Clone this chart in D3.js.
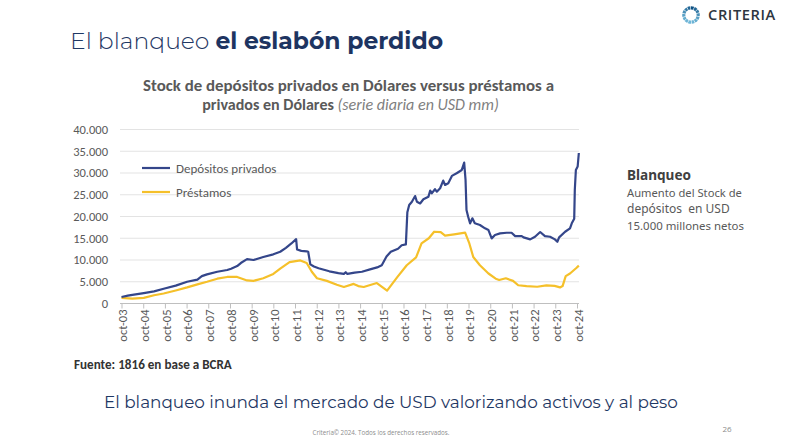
<!DOCTYPE html>
<html><head><meta charset="utf-8">
<script src="https://cdn.jsdelivr.net/npm/d3@7"></script>
<style>
html,body{margin:0;padding:0;background:#fff;}
svg{display:block;}
</style>
</head><body>
<svg id="c" width="790" height="444"></svg>
<script>
// ---------- DATA ----------
const seriesNames = ["Depósitos privados", "Préstamos"];
const depDates = ["2003-10-01","2004-01-15","2004-04-01","2004-10-10","2005-04-01","2005-09-10","2006-04-01","2006-10-10","2007-04-01","2007-06-15","2007-09-10","2008-03-01","2008-08-15","2008-10-20","2009-01-30","2009-04-01","2009-07-15","2009-11-01","2010-04-15","2010-10-01","2011-01-25","2011-05-01","2011-08-01","2011-10-20","2011-11-05","2012-01-15","2012-04-15","2012-05-10","2012-06-15","2012-08-15","2012-11-01","2013-05-01","2013-10-01","2014-01-01","2014-02-01","2014-03-01","2014-07-01","2014-11-01","2015-04-01","2015-07-15","2015-10-01","2015-12-20","2016-03-01","2016-07-01","2016-09-01","2016-11-10","2016-12-05","2017-01-05","2017-02-20","2017-04-15","2017-05-15","2017-07-08","2017-09-01","2017-11-25","2017-12-25","2018-01-20","2018-03-15","2018-04-15","2018-06-10","2018-08-01","2018-09-01","2018-10-25","2018-12-25","2019-03-15","2019-06-10","2019-07-20","2019-08-12","2019-08-28","2019-09-25","2019-10-28","2019-12-05","2020-01-15","2020-04-10","2020-07-05","2020-09-01","2020-10-25","2020-12-20","2021-03-15","2021-07-05","2021-09-25","2021-11-25","2022-03-15","2022-04-15","2022-08-05","2022-10-25","2023-01-20","2023-04-10","2023-07-05","2023-09-25","2023-11-05","2023-12-05","2024-03-15","2024-06-05","2024-07-05","2024-08-15","2024-08-25","2024-09-12","2024-10-12","2024-11-01"];
const depValues = [1500,1800,2000,2400,2800,3400,4100,5000,5500,6300,6700,7300,7700,8000,8600,9300,10200,10000,10700,11300,11900,12800,13800,14800,12400,12100,12000,11900,9000,8500,8100,7400,7000,6800,7200,6800,7100,7300,7900,8300,8800,10800,11900,12600,13400,13600,21000,22650,23400,24700,23400,23000,23960,24560,25940,25330,26270,25710,26500,28250,27250,27650,29330,29950,30700,32400,28400,21500,19950,18430,19580,18430,18040,17280,16890,14970,15740,16120,16270,16270,15500,15500,15200,14740,15350,16430,15500,15350,14740,14200,15200,16500,17280,18430,19500,26100,30700,31500,34600];
const presDates = ["2003-10-01","2004-04-01","2004-10-10","2005-04-01","2005-09-10","2006-04-01","2006-10-10","2007-04-01","2007-09-10","2008-03-01","2008-08-15","2009-01-30","2009-07-15","2009-11-01","2010-04-15","2010-10-01","2011-01-25","2011-07-01","2011-12-30","2012-04-15","2012-07-10","2012-10-05","2013-03-20","2013-09-05","2014-01-01","2014-06-15","2014-09-01","2014-12-01","2015-07-10","2015-12-30","2016-06-15","2016-11-25","2017-05-01","2017-08-01","2017-12-01","2018-03-01","2018-06-20","2018-09-01","2019-02-01","2019-08-05","2019-10-15","2019-12-20","2020-04-10","2020-09-01","2021-01-01","2021-03-01","2021-06-20","2021-10-20","2022-01-15","2022-06-05","2022-12-01","2023-05-05","2023-09-20","2023-12-20","2024-02-01","2024-03-25","2024-06-05","2024-09-15","2024-11-01"];
const presValues = [1300,1100,1300,1900,2300,3000,3700,4400,5000,5700,6100,6100,5300,5200,5800,6800,8000,9500,9900,9300,7300,5800,5200,4300,3800,4500,4000,3800,4700,2950,6000,8800,10600,13800,15000,16500,16400,15600,15900,16300,13800,10700,8800,6900,5700,5400,5800,5200,4200,4000,3850,4150,4050,3700,4000,6300,6900,8100,8700];
const yTicks = [0,5000,10000,15000,20000,25000,30000,35000,40000];
const xTickYears = [2003,2004,2005,2006,2007,2008,2009,2010,2011,2012,2013,2014,2015,2016,2017,2018,2019,2020,2021,2022,2023,2024];
const monthLabel = "oct";

// ---------- SETUP ----------
const svg = d3.select("#c");
const parse = d3.timeParse("%Y-%m-%d");
const dep = depDates.map((d,i)=>({date:parse(d), v:depValues[i]}));
const pres = presDates.map((d,i)=>({date:parse(d), v:presValues[i]}));

const x = d3.scaleTime().domain([new Date(2003,9,1), new Date(2024,9,1)]).range([121.5, 577]);
const y = d3.scaleLinear().domain([0,40000]).range([303.5,129.5]);

function fit(sel, target){
  const n = sel.node();
  const fs = parseFloat(sel.attr("font-size"));
  const w = n.getComputedTextLength();
  sel.attr("font-size", (fs*target/w).toFixed(2));
}

const navy = "#1f3864";
const chartFont = "Carlito, 'Open Sans', 'Noto Sans', sans-serif";
const titleFont = "Montserrat, 'Noto Sans', 'Open Sans', sans-serif";

// ---------- PAGE TITLE ----------
const t = svg.append("text").attr("x",70).attr("y",49).attr("font-family",titleFont)
  .attr("font-size",25).attr("fill",navy);
t.append("tspan").attr("font-weight",300).text("El blanqueo ");
t.append("tspan").attr("font-weight",700).attr("fill","#1d3461").text("el eslabón perdido");
fit(t, 373);

// ---------- LOGO ----------
const logo = svg.append("g").attr("transform","translate(691,15)");
const segs = 14;
for(let i=0;i<segs;i++){
  const a0 = i*2*Math.PI/segs, a1 = a0 + 2*Math.PI/segs*0.82;
  logo.append("path")
    .attr("d", d3.arc()({innerRadius:5.6, outerRadius:8.8, startAngle:a0, endAngle:a1}))
    .attr("fill", d3.interpolateRgb("#0c4f82","#6fb7d8")(Math.abs(Math.sin(i/segs*Math.PI))));
}
const lt = svg.append("text").attr("x",708).attr("y",19.5).attr("font-family","'Open Sans', sans-serif")
  .attr("font-weight",600).attr("font-size",12).attr("fill","#2d3640").attr("letter-spacing",0.6).text("CRITERIA");
fit(lt, 69);

// ---------- CHART TITLE ----------
const ct1 = svg.append("text").attr("x",348.5).attr("y",91).attr("text-anchor","middle")
  .attr("font-family",chartFont).attr("font-weight",700).attr("font-size",15).attr("fill","#595959")
  .text("Stock de depósitos privados en Dólares versus préstamos a");
fit(ct1, 411);
const ct2 = svg.append("text").attr("x",350.5).attr("y",110).attr("text-anchor","middle")
  .attr("font-family",chartFont).attr("font-size",15).attr("fill","#595959");
ct2.append("tspan").attr("font-weight",700).text("privados en Dólares ");
ct2.append("tspan").attr("font-style","italic").attr("font-weight",400).attr("fill","#7f7f7f").text("(serie diaria en USD mm)");
fit(ct2, 297);

// ---------- GRID + Y AXIS ----------
const fmt = v => d3.format(",")(v).replace(/,/g,".");
svg.append("g").selectAll("line").data(yTicks.filter(d=>d>0)).join("line")
  .attr("x1",120).attr("x2",579).attr("y1",d=>y(d)).attr("y2",d=>y(d))
  .attr("stroke","#e3e3e3").attr("stroke-width",1);
svg.append("g").selectAll("text").data(yTicks).join("text")
  .attr("x",108).attr("y",d=>y(d)+4.3).attr("text-anchor","end")
  .attr("font-family",chartFont).attr("font-size",12.5).attr("fill","#595959").text(fmt);

// ---------- X AXIS ----------
const xAxis = d3.axisBottom(x)
  .tickValues(xTickYears.map(yr=>new Date(yr,9,1)))
  .tickFormat(d=>monthLabel+"-"+d3.timeFormat("%y")(d))
  .tickSize(5).tickSizeOuter(0);
const gx = svg.append("g").attr("transform","translate(0,303.5)").call(xAxis);
gx.select(".domain").attr("stroke","#bfbfbf").attr("d","M120,0H579");
gx.selectAll(".tick line").attr("stroke","#bfbfbf");
gx.selectAll(".tick text")
  .attr("font-family",chartFont).attr("font-size",12.5).attr("fill","#595959")
  .attr("transform","translate(1,0) rotate(-90)").attr("text-anchor","end")
  .attr("x",-6).attr("y",0).attr("dy","0.35em");

// ---------- LINES ----------
const line = d3.line().x(d=>x(d.date)).y(d=>y(d.v)).curve(d3.curveLinear);
svg.append("path").datum(pres).attr("d",line).attr("fill","none")
  .attr("stroke","#f5c02a").attr("stroke-width",2.2).attr("stroke-linejoin","round");
svg.append("path").datum(dep).attr("d",line).attr("fill","none")
  .attr("stroke","#34468a").attr("stroke-width",2.2).attr("stroke-linejoin","round");

// ---------- LEGEND ----------
const legColors = ["#34468a","#f5c02a"];
const legY = [168, 192];
seriesNames.forEach((n,i)=>{
  svg.append("line").attr("x1",142).attr("x2",170).attr("y1",legY[i]).attr("y2",legY[i])
    .attr("stroke",legColors[i]).attr("stroke-width",2.2);
  svg.append("text").attr("x",176).attr("y",legY[i]+4.5).attr("font-family",chartFont)
    .attr("font-size",13).attr("fill","#595959").text(n);
});

// ---------- SOURCE ----------
const src = svg.append("text").attr("x",74).attr("y",369).attr("font-family",chartFont)
  .attr("font-weight",600).attr("font-size",11.5).attr("fill","#333").text("Fuente: 1816 en base a BCRA");
fit(src, 158);

// ---------- RIGHT NOTE ----------
const note = svg.append("g").attr("font-family","'Noto Sans', 'Open Sans', sans-serif");
const nb = note.append("text").attr("x",627).attr("y",180).attr("font-weight",700)
  .attr("font-size",14).attr("fill","#404040").text("Blanqueo");
fit(nb, 64);
const noteLines = ["Aumento del Stock de","depósitos  en USD","15.000 millones netos"];
const noteY = [196.5, 213.3, 229.5];
noteLines.forEach((s,i)=>{
  const tt = note.append("text").attr("x",627).attr("y",noteY[i]).attr("font-size",12)
    .attr("fill","#595959").attr("xml:space","preserve").style("white-space","pre").text(s);
  if(i===0) fit(tt,115);
  if(i===2) fit(tt,117);
});

// ---------- BOTTOM ----------
const bt = svg.append("text").attr("x",104).attr("y",408).attr("font-family",titleFont)
  .attr("font-weight",400).attr("font-size",18).attr("fill",navy)
  .text("El blanqueo inunda el mercado de USD valorizando activos y al peso");
fit(bt, 574);
const ft = svg.append("text").attr("x",381).attr("y",435).attr("text-anchor","middle")
  .attr("font-family","'Open Sans', sans-serif").attr("font-size",5.5).attr("fill","#8c8c8c")
  .text("Criteria© 2024. Todos los derechos reservados.");
fit(ft, 137);
svg.append("text").attr("x",727).attr("y",432).attr("text-anchor","middle")
  .attr("font-family","'Open Sans', sans-serif").attr("font-size",8).attr("fill","#8c8c8c").text("26");
</script>
</body></html>
